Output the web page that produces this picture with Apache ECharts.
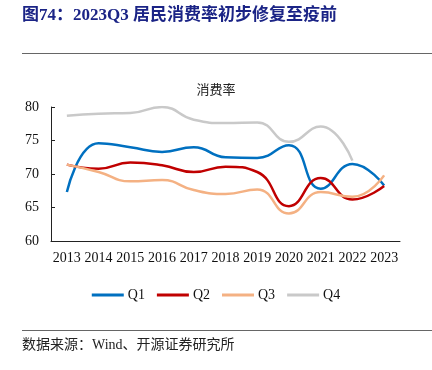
<!DOCTYPE html>
<html><head><meta charset="utf-8">
<script src="https://cdn.jsdelivr.net/npm/echarts@6/dist/echarts.min.js"></script>
<style>html,body{margin:0;padding:0;background:#fff}#c{width:432px;height:370px}</style>
</head><body><div id="c"></div>
<script>
const years = ['2013','2014','2015','2016','2017','2018','2019','2020','2021','2022','2023'];
const q1 = [67.3, 74.6, 74.0, 73.3, 74.0, 72.5, 72.4, 74.3, 67.8, 71.5, 68.3];
const q2 = [71.4, 70.8, 71.7, 71.3, 70.3, 71.1, 70.3, 65.2, 69.4, 66.2, 68.2];
const q3 = [71.4, 70.3, 68.9, 69.1, 67.6, 67.0, 67.7, 64.1, 67.3, 66.6, 69.8];
const q4 = [78.7, 79.0, 79.1, 80.0, 78.1, 77.6, 77.7, 74.8, 77.1, 72.0, null];
const yTicks = [60, 65, 70, 75, 80];

const serif = '"Times New Roman","Liberation Serif","Noto Sans CJK SC",serif';
const chart = echarts.init(document.getElementById('c'));
const mk = (name, data, color) => ({
  name, type: 'line', data, smooth: true, symbol: 'none',
  lineStyle: { color, width: 2.5 }, itemStyle: { color }
});
chart.setOption({
  animation: false,
  textStyle: { fontFamily: serif },
  grid: { left: 51, right: 32, top: 107, bottom: 129 },
  graphic: [
    { type: 'text', left: 22, top: 7, style: { text: '图74：2023Q3 居民消费率初步修复至疫前', fill: '#1b2486', font: 'bold 17px ' + serif } },
    { type: 'rect', shape: { x: 22, y: 53, width: 410, height: 1 }, style: { fill: '#666' } },
    { type: 'text', left: 'center', top: 83, style: { text: '消费率', fill: '#222', font: '13px "Noto Sans CJK SC",serif' } },
    { type: 'rect', shape: { x: 22, y: 330, width: 410, height: 1 }, style: { fill: '#666' } },
    { type: 'text', left: 22, top: 338, style: { text: '数据来源：Wind、开源证券研究所', fill: '#222', font: '14px ' + serif } }
  ],
  legend: {
    bottom: 63, left: 'center', icon: 'rect', itemWidth: 32, itemHeight: 3, itemGap: 12,
    textStyle: { fontFamily: serif, fontSize: 14, color: '#111', padding: [0, 0, 0, -1] },
    data: ['Q1', 'Q2', 'Q3', 'Q4']
  },
  xAxis: {
    type: 'category', data: years, boundaryGap: true,
    axisLine: { lineStyle: { color: '#222', width: 1 } },
    axisTick: { inside: true, length: 4, lineStyle: { color: '#222' } },
    axisLabel: { color: '#111', fontSize: 14, fontFamily: serif, margin: 10, interval: 0 }
  },
  yAxis: {
    type: 'value', min: yTicks[0], max: yTicks[yTicks.length - 1], interval: 5,
    splitLine: { show: false },
    axisLine: { show: true, lineStyle: { color: '#222', width: 1 } },
    axisTick: { show: true, inside: true, length: 4, lineStyle: { color: '#222' } },
    axisLabel: { color: '#111', fontSize: 14, fontFamily: serif, margin: 12 }
  },
  series: [
    mk('Q1', q1, '#0070C0'),
    mk('Q2', q2, '#C00000'),
    mk('Q3', q3, '#F4B183'),
    mk('Q4', q4, '#C9C9C9')
  ]
});
</script></body></html>
